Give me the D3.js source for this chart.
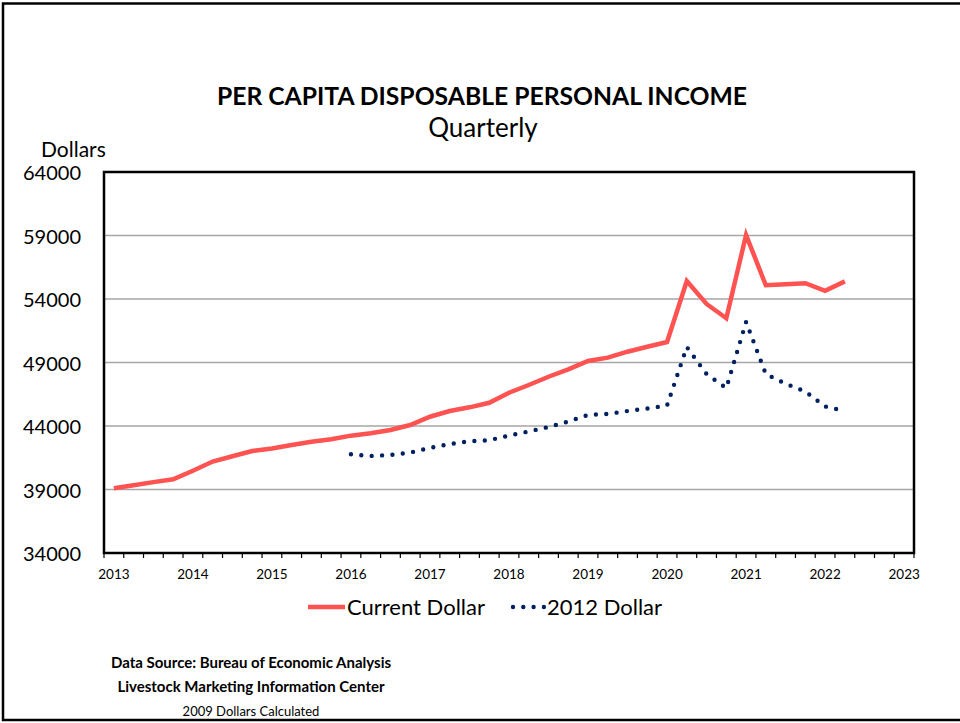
<!DOCTYPE html>
<html>
<head>
<meta charset="utf-8">
<script src="https://cdn.jsdelivr.net/npm/d3@7"></script>
<style>
  html, body { margin: 0; padding: 0; background: #fff; }
  svg { display: block; }
  text { font-family: Lato, "Open Sans", sans-serif; fill: #000; }
</style>
</head>
<body>
<svg id="chart" width="960" height="723"></svg>
<script>
// Quarterly categories 2013 Q1 .. 2023 Q1 (axis runs one quarter past the data)
const years = [2013, 2014, 2015, 2016, 2017, 2018, 2019, 2020, 2021, 2022, 2023];
const quarters = years.flatMap(y => (y === 2023 ? [1] : [1, 2, 3, 4]).map(q => `${y}Q${q}`));

// Per capita disposable personal income, current dollars, 2013 Q1 .. 2022 Q2
const currentDollar = [
  39100, 39340, 39580, 39800,
  40480, 41200, 41620, 42030,
  42230, 42500, 42760, 42950,
  43240, 43430, 43690, 44080,
  44730, 45180, 45470, 45830,
  46620, 47230, 47880, 48460,
  49120, 49380, 49850, 50240,
  50610, 55420, 53610, 52480,
  59040, 55080, 55160, 55240,
  54650, 55390
];

// Same series in 2012 dollars, available from 2016 Q1 .. 2022 Q2
const dollar2012 = [
  null, null, null, null,
  null, null, null, null,
  null, null, null, null,
  41770, 41640, 41720, 41910,
  42270, 42580, 42800, 42880,
  43250, 43570, 43920, 44350,
  44870, 44950, 45180, 45380,
  45610, 50220, 48090, 46990,
  52190, 48090, 47330, 46720,
  45540, 45180
];

const yTicks = [34000, 39000, 44000, 49000, 54000, 59000, 64000];

const seriesNames = ["Current Dollar", "2012 Dollar"];
const titleText = "PER CAPITA DISPOSABLE PERSONAL INCOME";
const subtitleText = "Quarterly";
const yAxisTitle = "Dollars";
const footerLines = [
  "Data Source: Bureau of Economic Analysis",
  "Livestock Marketing Information Center",
  "2009 Dollars Calculated"
];

const RED = "#ff5352";
const NAVY = "#002060";

const svg = d3.select("#chart");
const plot = { left: 104, right: 914, top: 172, bottom: 553 };

const x = d3.scaleBand().domain(quarters).range([plot.left, plot.right]).padding(0);
const y = d3.scaleLinear().domain([34000, 64000]).range([plot.bottom, plot.top]);

// outer frame
svg.append("rect")
  .attr("x", 3).attr("y", 3.5).attr("width", 970).attr("height", 716.5)
  .attr("fill", "none").attr("stroke", "#000").attr("stroke-width", 2.5);

// horizontal gridlines
svg.append("g")
  .selectAll("line")
  .data(yTicks.filter(t => t > 34000 && t < 64000))
  .join("line")
  .attr("x1", plot.left).attr("x2", plot.right)
  .attr("y1", d => y(d)).attr("y2", d => y(d))
  .attr("stroke", "#a6a6a6").attr("stroke-width", 1.5);

// y tick labels
svg.append("g")
  .selectAll("text")
  .data(yTicks)
  .join("text")
  .attr("x", 81).attr("y", d => y(d))
  .attr("text-anchor", "end")
  .attr("dominant-baseline", "central")
  .style("font-size", "20px")
  .text(d => d);

svg.append("text")
  .attr("x", 41).attr("y", 157)
  .style("font-size", "21px")
  .text(yAxisTitle);

// x axis: quarter ticks at category boundaries, year labels on Q1 categories
const xAxis = d3.axisBottom(x)
  .tickValues(quarters.filter(q => q.endsWith("Q1")))
  .tickSize(0)
  .tickFormat(q => q.slice(0, 4));

const gx = svg.append("g")
  .attr("transform", `translate(0,${plot.bottom})`)
  .call(xAxis);
gx.select(".domain").remove();
gx.selectAll("text")
  .attr("y", 22)
  .attr("dy", "0.32em")
  .style("font-family", "Lato, sans-serif")
  .style("font-size", "13.5px")
  .attr("fill", "#000");

const boundaries = quarters.map(q => x(q)).concat([plot.right]);
svg.append("g")
  .selectAll("line")
  .data(boundaries)
  .join("line")
  .attr("x1", d => d).attr("x2", d => d)
  .attr("y1", plot.bottom).attr("y2", plot.bottom + 5)
  .attr("stroke", "#000").attr("stroke-width", 1.2);

// plot frame
svg.append("rect")
  .attr("x", plot.left).attr("y", plot.top)
  .attr("width", plot.right - plot.left).attr("height", plot.bottom - plot.top)
  .attr("fill", "none").attr("stroke", "#000").attr("stroke-width", 2.5);

const line = d3.line()
  .defined(d => d.v != null)
  .x(d => x(d.q) + x.bandwidth() / 2)
  .y(d => y(d.v));

const toPoints = arr => arr.map((v, i) => ({ q: quarters[i], v }));

svg.append("path")
  .datum(toPoints(currentDollar))
  .attr("d", line)
  .attr("fill", "none")
  .attr("stroke", RED)
  .attr("stroke-width", 4.5)
  .attr("stroke-linejoin", "miter");

svg.append("path")
  .datum(toPoints(dollar2012).filter(d => d.v != null))
  .attr("d", line)
  .attr("fill", "none")
  .attr("stroke", NAVY)
  .attr("stroke-width", 4.4)
  .attr("stroke-linecap", "round")
  .attr("stroke-dasharray", "0 10.4");

// titles
svg.append("text")
  .attr("x", 482).attr("y", 105)
  .attr("text-anchor", "middle")
  .style("font-size", "24.7px").style("font-weight", "bold")
  .text(titleText);

svg.append("text")
  .attr("x", 483).attr("y", 137)
  .attr("text-anchor", "middle")
  .style("font-size", "26px")
  .text(subtitleText);

// legend
const legend = svg.append("g");
legend.append("line")
  .attr("x1", 308).attr("x2", 345).attr("y1", 607).attr("y2", 607)
  .attr("stroke", RED).attr("stroke-width", 4.5);
legend.append("text")
  .attr("x", 347).attr("y", 615)
  .style("font-size", "22px")
  .text(seriesNames[0]);
legend.append("line")
  .attr("x1", 513).attr("x2", 544).attr("y1", 607).attr("y2", 607)
  .attr("stroke", NAVY).attr("stroke-width", 4.4)
  .attr("stroke-linecap", "round")
  .attr("stroke-dasharray", "0 10.3");
legend.append("text")
  .attr("x", 547).attr("y", 615)
  .style("font-size", "22px")
  .text(seriesNames[1]);

// footer notes
svg.append("g")
  .selectAll("text")
  .data(footerLines)
  .join("text")
  .attr("x", 251)
  .attr("y", (d, i) => 668 + i * 24)
  .attr("text-anchor", "middle")
  .style("font-size", (d, i) => i < 2 ? "15px" : "13px")
  .style("font-weight", (d, i) => i < 2 ? "bold" : "normal")
  .text(d => d);
</script>
</body>
</html>
